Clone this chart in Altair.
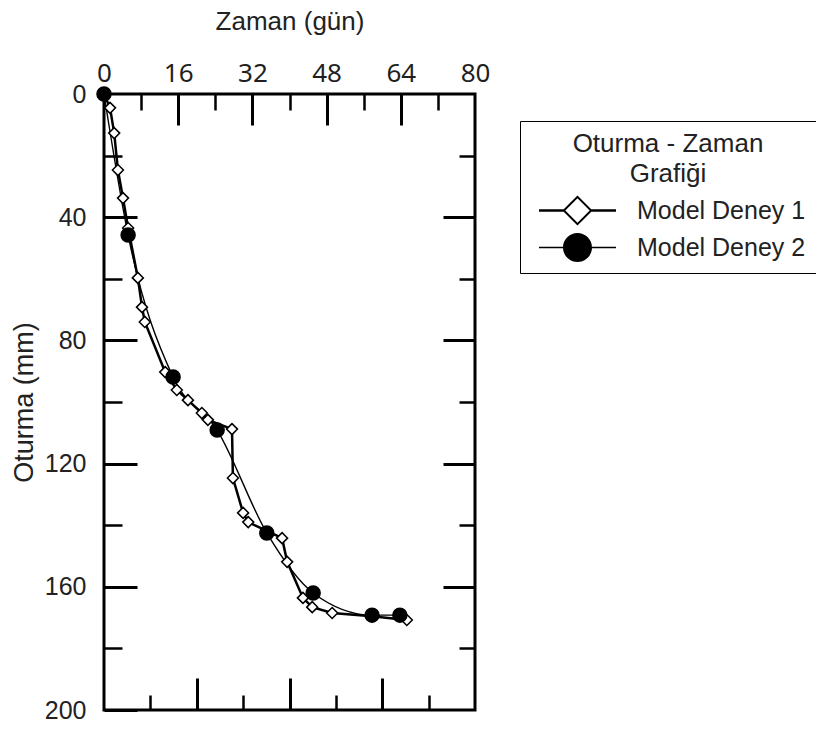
import altair as alt
import pandas as pd

# ---- data ----
SERIES = ["Model Deney 1", "Model Deney 2"]

t1 = [0, 1.3, 2.2, 3.0, 4.1, 5.2, 7.3, 8.2, 8.8, 13.2, 15.7, 18.1, 21.1, 22.4,
      27.6, 27.8, 30.0, 31.1, 38.4, 39.5, 42.9, 44.9, 49.2, 57.8, 65.3]
s1 = [0, 4.5, 12.7, 24.7, 33.8, 43.5, 59.7, 69.2, 74.0, 90.3, 96.1, 99.4, 103.6, 105.8,
      108.8, 124.7, 136.0, 139.0, 144.2, 151.9, 163.6, 166.6, 168.5, 169.6, 170.8]

t2 = [0, 5.2, 14.9, 24.4, 35.1, 45.1, 57.8, 63.8]
s2 = [0, 45.8, 91.9, 109.1, 142.5, 162.0, 169.2, 169.2]

x_labels = [0, 16, 32, 48, 64, 80]
x_top_ticks = [8, 16, 24, 32, 40, 48, 56, 64, 72]
x_bottom_ticks = [10, 20, 30, 40, 50, 60, 70]
y_labels = [0, 40, 80, 120, 160, 200]
y_left_ticks = [20, 40, 60, 80, 100, 120, 140, 160, 180, 200]
y_right_ticks = [20, 40, 60, 80, 100, 120, 140, 160, 180]

df1 = pd.DataFrame({"t": t1, "s": s1, "i": list(range(len(t1))), "seri": SERIES[0]})
df2 = pd.DataFrame({"t": t2, "s": s2, "i": list(range(len(t2))), "seri": SERIES[1]})
pts = pd.concat([df1, df2], ignore_index=True)

W, H = 371, 616
FONT = "Liberation Sans"

xs = alt.Scale(domain=[0, 80], nice=False, zero=False)
ys = alt.Scale(domain=[0, 200], reverse=True, nice=False, zero=False)


def tick_axis(orient, vals, mod, long_, short_, offset):
    test = f"datum.value % {mod} === 0"
    return alt.Axis(
        orient=orient, values=vals, offset=offset, labels=False, domain=False,
        grid=False, title=None, ticks=True, tickColor="black",
        tickSize={"condition": {"test": test, "value": long_}, "value": short_},
        tickWidth={"condition": {"test": test, "value": 3}, "value": 2.5},
    )


top_label_axis = alt.Axis(
    orient="top", values=x_labels, ticks=False, tickSize=0, domain=False, grid=False,
    labelFont="Noto Sans", labelFontSize=26, labelColor="#1f1f1f", labelPadding=8,
    labelFlush=False, labelOverlap=False,
    title="Zaman (gün)", titleFont=FONT, titleFontSize=26, titleFontWeight="normal",
    titleColor="#222222", titlePadding=26,
)
left_label_axis = alt.Axis(
    orient="left", values=y_labels, ticks=False, tickSize=0, domain=False, grid=False,
    labelFont=FONT, labelFontSize=25, labelColor="#222222", labelPadding=18,
    labelFlush=False, labelOverlap=False,
    title="Oturma (mm)", titleFont=FONT, titleFontSize=27, titleFontWeight="normal",
    titleColor="#222222", titlePadding=6,
)

line1 = alt.Chart(df1).mark_line(color="black", strokeWidth=2.5).encode(
    x=alt.X("t:Q", scale=xs, axis=top_label_axis),
    y=alt.Y("s:Q", scale=ys, axis=left_label_axis),
    order="i:Q",
)

line2 = alt.Chart(df2).mark_line(color="black", strokeWidth=1.4, interpolate="monotone").encode(
    x=alt.X("t:Q", scale=xs, axis=tick_axis("bottom", x_top_ticks, 16, 31, 16, -H)),
    y=alt.Y("s:Q", scale=ys, axis=tick_axis("right", y_left_ticks, 40, 33, 18, -W)),
    order="i:Q",
)

points = alt.Chart(pts).mark_point(filled=False, stroke="black", strokeWidth=1.5, opacity=1).encode(
    x=alt.X("t:Q", scale=xs, axis=tick_axis("top", x_bottom_ticks, 20, 32, 15, -H)),
    y=alt.Y("s:Q", scale=ys, axis=tick_axis("left", y_right_ticks, 40, 32, 16, -W)),
    shape=alt.Shape("seri:N", scale=alt.Scale(domain=SERIES, range=["diamond", "circle"]), legend=None),
    fill=alt.Fill("seri:N", scale=alt.Scale(domain=SERIES, range=["white", "black"]), legend=None),
    size=alt.Size("seri:N", scale=alt.Scale(domain=SERIES, range=[121, 196]), legend=None),
)

# legend symbols: line + marker drawn as one filled custom path (unit coords)
SYM1 = ("M-1,-0.033L-0.36,-0.033L-0.36,0.033L-1,0.033Z"
        "M0.36,-0.033L1,-0.033L1,0.033L0.36,0.033Z"
        "M0,-0.39L0.39,0L0,0.39L-0.39,0Z"
        "M0,-0.317L-0.317,0L0,0.317L0.317,0Z")
SYM2 = ("M-1,-0.02L-0.35,-0.02L-0.35,0.02L-1,0.02Z"
        "M0.35,-0.02L1,-0.02L1,0.02L0.35,0.02Z"
        "M0.377,0A0.377,0.377,0,1,1,-0.377,0A0.377,0.377,0,1,1,0.377,0Z")

legend = alt.Legend(
    orient="none", legendX=416, legendY=27,
    title=["Oturma - Zaman", "Grafiği"],
    titleFont=FONT, titleFontSize=26, titleFontWeight="normal", titleColor="#222222",
    titleAnchor="middle", titleLineHeight=30, titlePadding=8, titleLimit=400,
    labelFont=FONT, labelFontSize=25, labelColor="#222222", labelOffset=21, labelLimit=0,
    symbolSize=5929, symbolStrokeWidth=0, symbolOffset=9,
    symbolFillColor="black", symbolStrokeColor="black",
    clipHeight=31, padding=10, rowPadding=6, strokeColor="black",
)

legend_layer = alt.Chart(pts).transform_filter("false").mark_point(
    filled=True, fill="black", strokeWidth=0, opacity=1
).encode(
    x=alt.X("t:Q", scale=xs, axis=None),
    y=alt.Y("s:Q", scale=ys, axis=None),
    shape=alt.Shape("seri:N", scale=alt.Scale(domain=SERIES, range=[SYM1, SYM2]), legend=legend),
)

chart = alt.layer(line1, line2, points, legend_layer).resolve_axis(
    x="independent", y="independent"
).resolve_scale(shape="independent").properties(
    width=W, height=H,
    autosize=alt.AutoSizeParams(type="none"),
    padding={"left": 96, "top": 86, "right": 341, "bottom": 13},
    background="white",
).configure_view(stroke="black", strokeWidth=3)

chart.save("out.html", embed_options={"renderer": "svg", "actions": False})
